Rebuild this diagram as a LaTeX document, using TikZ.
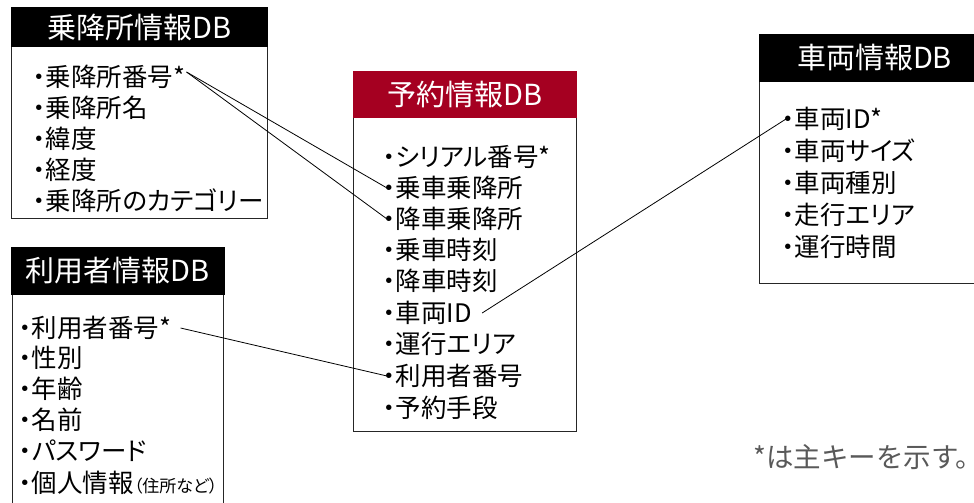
\documentclass[tikz,border=0pt]{standalone}
\usepackage{fontspec}
\newfontfamily\jp[RawFeature=+palt]{Noto Sans CJK JP}
\newfontfamily\jpfull{Noto Sans CJK JP}
\definecolor{dbred}{RGB}{165,0,33}
\definecolor{notegray}{RGB}{89,89,89}
\tikzset{
  hdrbox/.style={fill=black, text=white, inner sep=0pt, font=\jp\fontsize{29}{32}\selectfont},
  bodybox/.style={draw=black!85, line width=0.9pt},
  item/.style={anchor=west, inner sep=0pt, font=\jp\fontsize{25.5}{30}\selectfont},
  conn/.style={draw=black, line width=0.8pt},
}
\begin{document}
\begin{tikzpicture}[x=1pt,y=-1pt]
\useasboundingbox (0,0) rectangle (974,503);
\clip (0,0) rectangle (974,503);

% ---- 乗降所情報DB
\draw[bodybox] (11,7) rectangle (267,218);
\node[hdrbox, minimum width=257, minimum height=40] (h1) at (139.5,27) {乗降所情報DB};
\node[item] (a1) at (33,77)  {・乗降所番号*};
\node[item] (a2) at (33,108) {・乗降所名};
\node[item] (a3) at (33,139) {・緯度};
\node[item] (a4) at (33,170) {・経度};
\node[item] (a5) at (33,201) {・乗降所のカテゴリー};

% ---- 利用者情報DB
\draw[bodybox] (12,295) -- (12,520);
\draw[bodybox] (223,295) -- (223,520);
\node[hdrbox, minimum width=214, minimum height=48] (h2) at (118,271) {利用者情報DB};
\node[item] (b1) at (19,328) {・利用者番号*};
\node[item] (b2) at (19,358) {・性別};
\node[item] (b3) at (19,389) {・年齢};
\node[item] (b4) at (19,420) {・名前};
\node[item] (b5) at (19,451) {・パスワード};
\node[item] (b6) at (19,483) {・個人情報{\fontsize{17}{20}\selectfont（住所など）}};

% ---- 予約情報DB
\draw[bodybox] (353,71) rectangle (576,431);
\node[hdrbox, fill=dbred, minimum width=224, minimum height=47] (h3) at (465,94.5) {予約情報DB};
\node[item] (c1) at (383,157) {・シリアル番号*};
\node[item] (c2) at (383,188) {・乗車乗降所};
\node[item] (c3) at (383,219) {・降車乗降所};
\node[item] (c4) at (383,250) {・乗車時刻};
\node[item] (c5) at (383,281) {・降車時刻};
\node[item] (c6) at (383,313) {・車両ID};
\node[item] (c7) at (383,344) {・運行エリア};
\node[item] (c8) at (383,376) {・利用者番号};
\node[item] (c9) at (383,408) {・予約手段};

% ---- 車両情報DB
\draw[bodybox] (759,34) rectangle (990,283);
\node[hdrbox, minimum width=231, minimum height=48] (h4) at (874.5,58) {車両情報DB};
\node[item] (d1) at (782,119) {・車両ID*};
\node[item] (d2) at (782,151) {・車両サイズ};
\node[item] (d3) at (782,183) {・車両種別};
\node[item] (d4) at (782,215) {・走行エリア};
\node[item] (d5) at (782,247) {・運行時間};

% ---- note
\node[anchor=west, inner sep=0pt, text=notegray, font=\jpfull\fontsize{27.5}{30}\selectfont] (note) at (753,457) {*は主キーを示す。};

% ---- connectors
\draw[conn] ([shift={(1,-5)}]a1.east) -- ([xshift=4]c2.west);
\draw[conn] ([shift={(1,-5)}]a1.east) -- ([xshift=4]c3.west);
\draw[conn] ([xshift=9]b1.east) -- ([xshift=4]c8.west);
\draw[conn] ([xshift=10]c6.east) -- ([xshift=4]d1.west);
\end{tikzpicture}
\end{document}
